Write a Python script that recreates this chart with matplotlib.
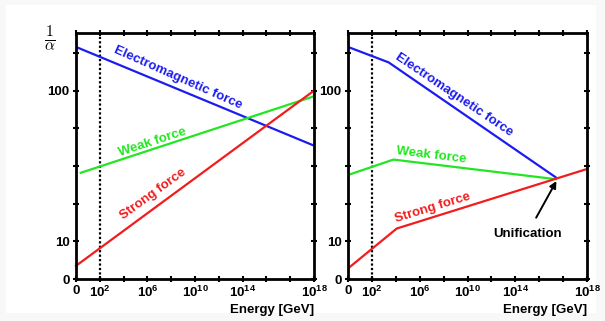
import matplotlib
matplotlib.use("Agg")
import matplotlib.pyplot as plt
from matplotlib.patches import Rectangle

plt.rcParams['font.family'] = ['Liberation Sans', 'DejaVu Sans']
plt.rcParams['font.weight'] = 'bold'
plt.rcParams['mathtext.fontset'] = 'custom'
plt.rcParams['mathtext.rm'] = 'Liberation Sans:bold'
plt.rcParams['mathtext.it'] = 'Liberation Sans:bold'
plt.rcParams['mathtext.bf'] = 'Liberation Sans:bold'

# energy axis positions (tick index) and 1/alpha axis positions (tick index)
x_ticks = [0, 1, 2, 3, 4, 5, 6, 7, 8, 9, 10]
x_labels = ['0', r'10$^{2}$', '', r'10$^{6}$', '', r'10$^{10}$', '', r'10$^{14}$', '', '', r'10$^{18}$']
y_ticks = [0, 1, 2, 3, 4, 5, 6]
y_labels = ['0', '10', '', '', '', '100', '']

# left panel: standard model running
em_left_x = [0, 10]
em_left_y = [6.16, 3.54]
weak_left_x = [0.2, 10]
weak_left_y = [2.82, 4.85]
strong_left_x = [0, 10]
strong_left_y = [0.35, 5.0]

# right panel: with supersymmetry
em_right_x = [0, 1.7, 8.69]
em_right_y = [6.16, 5.75, 2.70]
weak_right_x = [0, 1.9, 8.69]
weak_right_y = [2.76, 3.17, 2.65]
strong_right_x = [0, 2.04, 10]
strong_right_y = [0.28, 1.34, 2.92]

ew_scale = 1  # 10^2 GeV marker

BLUE = '#1c1cf0'
GREEN = '#22e622'
RED = '#f21c1c'
FS = 9.5

fig = plt.figure(figsize=(6.05, 3.21), dpi=100)
fig.patch.set_facecolor('#f8f8f8')
fig.patches.append(Rectangle((6 / 605, 8 / 321), 590 / 605, 308 / 321,
                             transform=fig.transFigure, facecolor='white',
                             edgecolor='none', zorder=-1))

ax1 = fig.add_axes([76 / 605, 42 / 321, 238 / 605, 246 / 321])
ax2 = fig.add_axes([348 / 605, 42 / 321, 239 / 605, 246 / 321])


def style_axes(ax):
    ax.set_xlim(0, 10)
    ax.set_ylim(0, 6.53)
    ax.set_xticks(x_ticks)
    ax.set_xticklabels(x_labels)
    ax.set_yticks(y_ticks)
    ax.set_yticklabels(y_labels)
    ax.tick_params(direction='inout', length=5, width=1.5, top=True, right=True,
                   labelsize=FS, pad=2)
    for s in ax.spines.values():
        s.set_linewidth(2)
    ax.set_facecolor('white')
    ax.axvline(ew_scale, color='black', ls=(0, (1, 1)), lw=1.6)
    ax.text(1.0, -0.125, 'Energy [GeV]', transform=ax.transAxes,
            ha='right', va='center', fontsize=FS)


def label(ax, x, y, s, rot, color):
    ax.text(x, y, s, rotation=rot, rotation_mode='anchor', ha='center',
            va='center', color=color, fontsize=FS, fontweight='bold')


# left
style_axes(ax1)
ax1.plot(em_left_x, em_left_y, color=BLUE, lw=1.6)
ax1.plot(weak_left_x, weak_left_y, color=GREEN, lw=1.6)
ax1.plot(strong_left_x, strong_left_y, color=RED, lw=1.6, clip_on=False)
label(ax1, 4.3, 5.33, 'Electromagnetic force', -24, BLUE)
label(ax1, 3.2, 3.63, 'Weak force', 18, GREEN)
label(ax1, 3.25, 2.25, 'Strong force', 36, RED)
ax1.text(-0.11, 0.98, r'$\frac{1}{\alpha}$', transform=ax1.transAxes,
         ha='center', va='center', fontsize=16, math_fontfamily='cm')

# right
style_axes(ax2)
ax2.plot(em_right_x, em_right_y, color=BLUE, lw=1.6)
ax2.plot(weak_right_x, weak_right_y, color=GREEN, lw=1.6)
ax2.plot(strong_right_x, strong_right_y, color=RED, lw=1.6)
label(ax2, 4.45, 4.9, 'Electromagnetic force', -34, BLUE)
label(ax2, 3.5, 3.28, 'Weak force', -7, GREEN)
label(ax2, 3.55, 1.9, 'Strong force', 17, RED)
ax2.annotate('Unification', xy=(8.72, 2.6), xytext=(7.5, 1.2),
             ha='center', va='center', fontsize=FS, fontweight='bold',
             arrowprops=dict(arrowstyle='-|>', color='black', lw=1.4,
                             mutation_scale=10, shrinkA=6, shrinkB=0))

fig.savefig('out.png', dpi=100, facecolor=fig.get_facecolor())
